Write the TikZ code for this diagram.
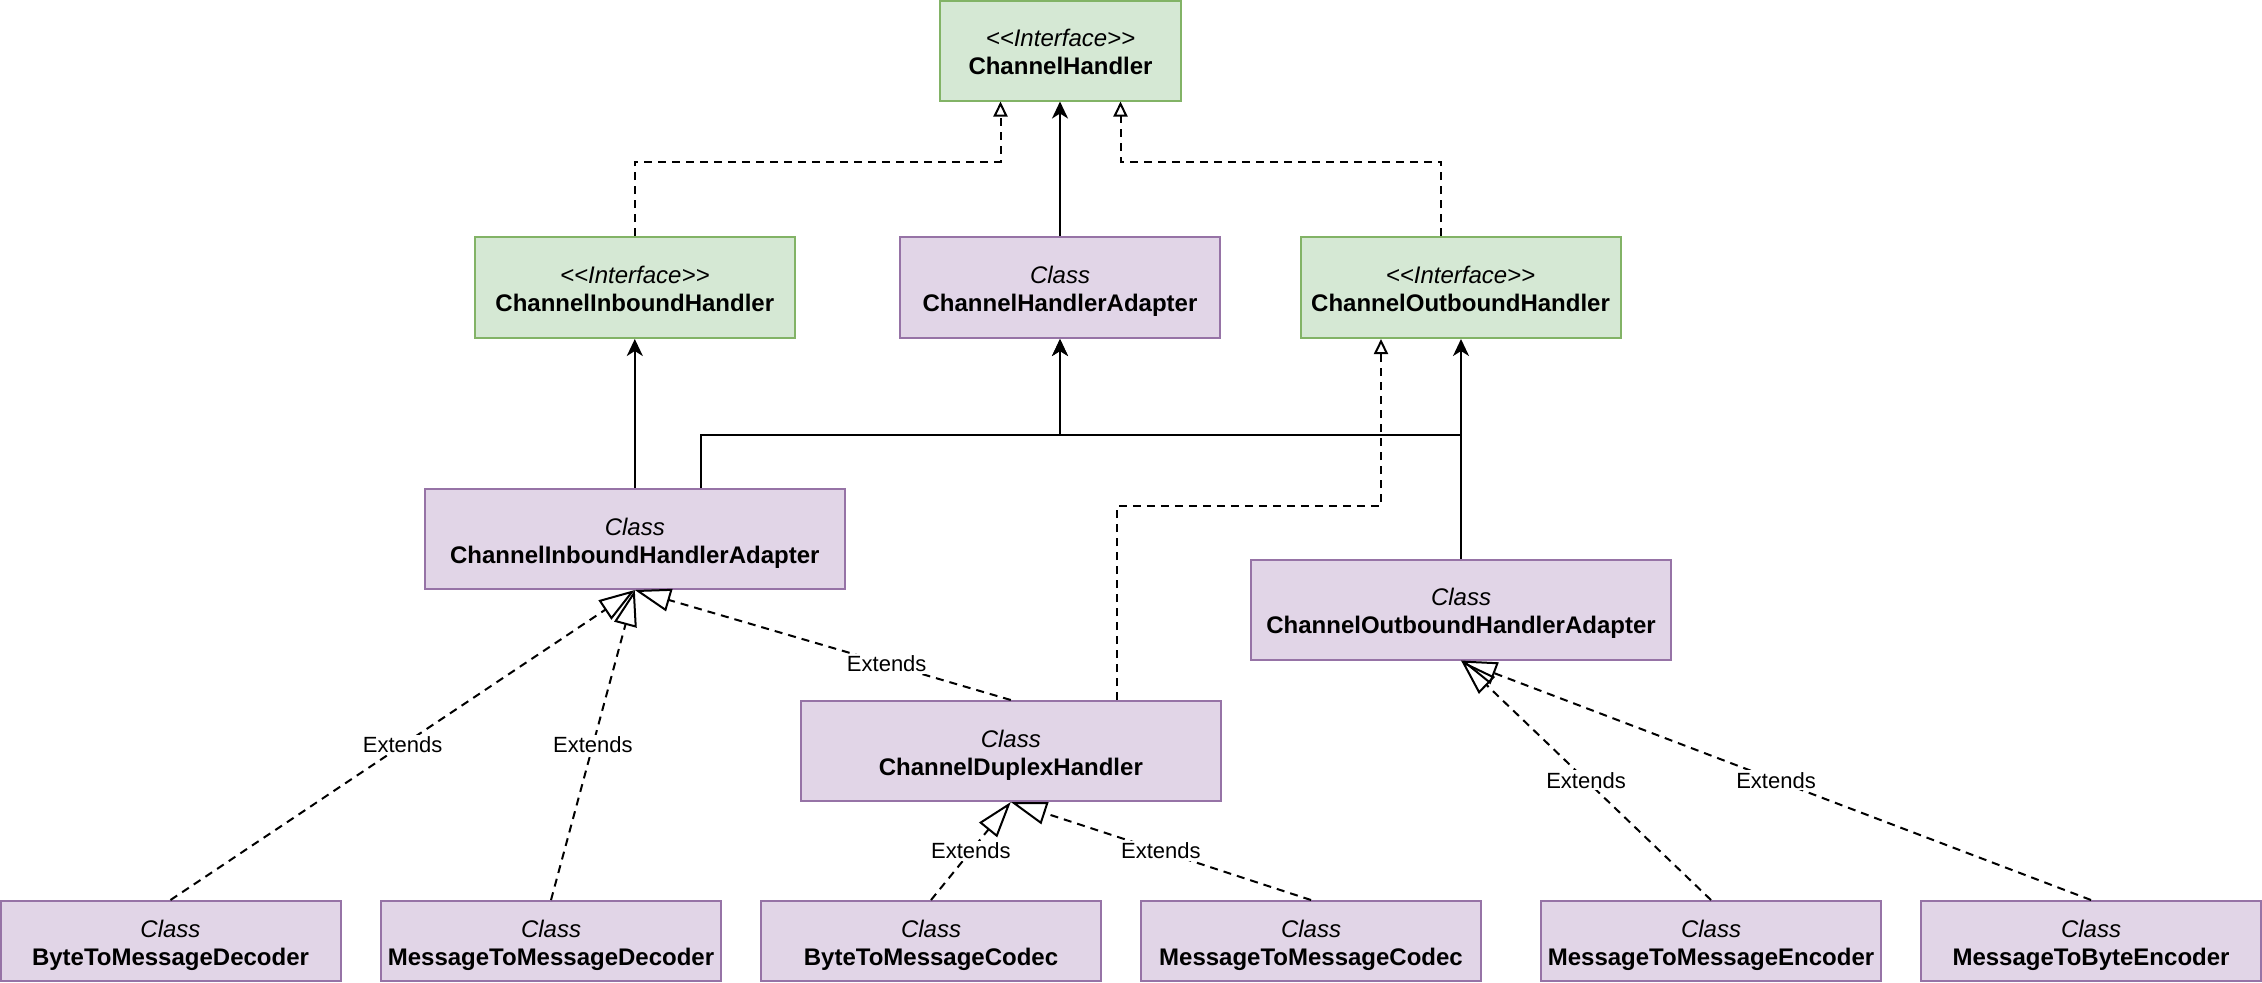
\documentclass[tikz,border=0pt]{standalone}
\usepackage{fontspec}
\setmainfont{Liberation Sans}
\usetikzlibrary{arrows.meta}
\definecolor{ifacefill}{HTML}{D5E8D4}
\definecolor{ifacedraw}{HTML}{82B366}
\definecolor{clsfill}{HTML}{E1D5E7}
\definecolor{clsdraw}{HTML}{9673A6}
\newcommand\twolines[2]{\raisebox{-2.2pt}[\height][\depth]{\begin{tabular}{@{}c@{}}#1\\#2\end{tabular}}}
\newcommand\umlstereo[1]{\twolines{\textit{<\kern0pt<Interface>\kern0pt>}}{\textbf{#1}}}
\newcommand\umlclass[1]{\twolines{\textit{Class}}{\textbf{#1}}}
\begin{document}
\begin{tikzpicture}[x=0.5pt,y=-0.5pt,
  umlbox/.style={draw, line width=1pt, align=center, inner sep=0pt,
    font=\fontsize{12pt}{14pt}\selectfont},
  iface/.style={umlbox, fill=ifacefill, draw=ifacedraw},
  klass/.style={umlbox, fill=clsfill, draw=clsdraw},
  wide/.style={minimum width=210pt, minimum height=50pt},
  mid/.style={minimum width=160pt, minimum height=50.5pt},
  low/.style={minimum width=170pt, minimum height=40pt},
  dashline/.style={line width=1pt, dash pattern=on 4pt off 3pt},
  extends/.style={dashline, -{Triangle[open, length=18pt, width=11.5pt]}},
  realize/.style={dashline, -{Triangle[open, length=7.5pt, width=7pt]}},
  inherit/.style={line width=1pt, -{Stealth[length=8.5pt, width=8pt, inset=2.5pt]}},
  lbl/.style={fill=white, inner sep=1pt, font=\fontsize{11pt}{13pt}\selectfont}
]
\useasboundingbox (0,0) rectangle (2262,982);

% nodes
\node[iface, minimum width=120.5pt, minimum height=50pt] (CH) at (1060.5,50.5)
  {\umlstereo{ChannelHandler}};
\node[iface, mid] (CIH) at (634.8,287.5) {\umlstereo{ChannelInboundHandler}};
\node[klass, mid] (CHA) at (1060,287.5) {\umlclass{ChannelHandlerAdapter}};
\node[iface, mid] (COH) at (1460.5,287.5) {\umlstereo{ChannelOutboundHandler}};
\node[klass, wide] (CIHA) at (634.8,539) {\umlclass{ChannelInboundHandlerAdapter}};
\node[klass, wide] (COHA) at (1461,609.5) {\umlclass{ChannelOutboundHandlerAdapter}};
\node[klass, wide] (CDH) at (1010.8,751) {\umlclass{ChannelDuplexHandler}};
\node[klass, low] (BTMD) at (170.5,941) {\umlclass{ByteToMessageDecoder}};
\node[klass, low] (MTMD) at (551,941) {\umlclass{MessageToMessageDecoder}};
\node[klass, low] (BTMC) at (931,941) {\umlclass{ByteToMessageCodec}};
\node[klass, low] (MTMC) at (1311,941) {\umlclass{MessageToMessageCodec}};
\node[klass, low] (MTME) at (1711,941) {\umlclass{MessageToMessageEncoder}};
\node[klass, low] (MTBE) at (2091,941) {\umlclass{MessageToByteEncoder}};

% top level
\draw[realize] (CIH.north) |- ([xshift=-30pt,yshift=-30pt]CH.south) -- ([xshift=-30pt]CH.south);
\draw[realize] ([xshift=-9.75pt]COH.north) |- ([xshift=30pt,yshift=-30pt]CH.south) -- ([xshift=30pt]CH.south);
\draw[inherit] (CHA.north) -- (CHA.north |- CH.south);

% second level
\draw[inherit] (CIHA.north) -- (CIH.south);
\draw[inherit] ([xshift=33pt]CIHA.north) |- ([yshift=-48pt]CHA.south) -- (CHA.south);
\draw[inherit] (COHA.north) |- ([yshift=-48pt]CHA.south) -- (CHA.south);
\draw[inherit] (COHA.north) -- (COHA.north |- COH.south);
\draw[realize] ([xshift=53pt]CDH.north) |- ([xshift=-39.75pt,yshift=-83.5pt]COH.south) -- ([xshift=-39.75pt]COH.south);

% extends
\draw[extends] (BTMD.north) -- node[lbl, midway] {Extends} (CIHA.south);
\draw[extends] (MTMD.north) -- node[lbl, midway] {Extends} (CIHA.south);
\draw[extends] (CDH.north) -- node[lbl, pos=0.33] {Extends} (CIHA.south);
\draw[extends] (BTMC.north) -- node[lbl, midway] {Extends} (CDH.south);
\draw[extends] (MTMC.north) -- node[lbl, midway] {Extends} (CDH.south);
\draw[extends] (MTME.north) -- node[lbl, midway] {Extends} (COHA.south);
\draw[extends] (MTBE.north) -- node[lbl, midway] {Extends} (COHA.south);
\end{tikzpicture}
\end{document}
